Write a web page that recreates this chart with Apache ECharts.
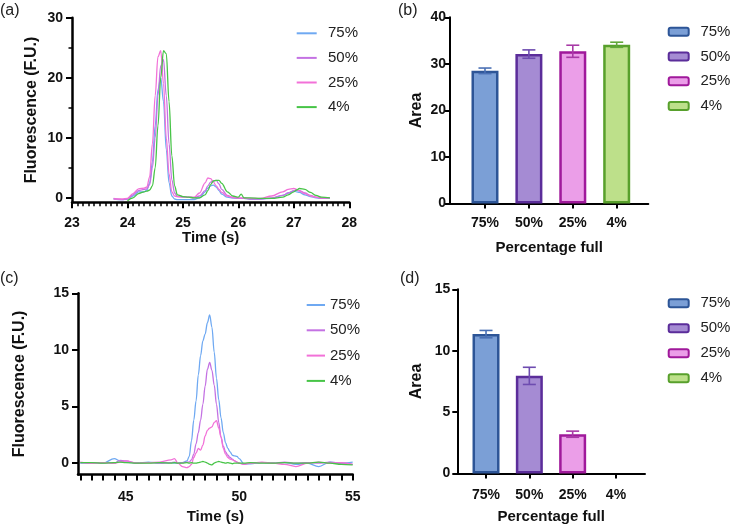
<!DOCTYPE html>
<html><head><meta charset="utf-8">
<script src="https://cdn.jsdelivr.net/npm/echarts@6.0.0/dist/echarts.min.js"></script>
<style>
html,body{margin:0;padding:0;background:#fff;}
#wrap{position:relative;width:731px;height:529px;overflow:hidden;}
.p{position:absolute;}
</style>
</head><body>
<div id="wrap">
<div id="ca" class="p" style="left:0;top:0;width:370px;height:260px"></div>
<div id="cb" class="p" style="left:370px;top:0;width:361px;height:260px"></div>
<div id="cc" class="p" style="left:0;top:260px;width:370px;height:269px"></div>
<div id="cd" class="p" style="left:370px;top:260px;width:361px;height:269px"></div>
</div>
<script>
// ---------- data ----------
const labels = ['75%', '50%', '25%', '4%'];

// panel (a): electropherogram, time (s) vs fluorescence
const timeA = [23.75, 23.9, 24.0, 24.1, 24.2, 24.3, 24.35, 24.4, 24.45, 24.5, 24.55, 24.6, 24.65, 24.7, 24.75, 24.8, 24.85, 24.9, 25.0, 25.1, 25.2, 25.3, 25.4, 25.45, 25.5, 25.55, 25.6, 25.65, 25.7, 25.8, 25.9, 26.0, 26.05, 26.1, 26.2, 26.4, 26.6, 26.8, 26.9, 27.0, 27.05, 27.1, 27.2, 27.3, 27.4, 27.5, 27.65];
const a75 = [-0.2, -0.3, -0.2, 0.3, 1.0, 1.0, 1.3, 2.5, 6, 12, 18, 20, 16, 8, 2.5, 0.3, -0.2, -0.3, -0.3, -0.3, -0.3, 0.0, 1.0, 1.6, 2.0, 2.1, 1.8, 1.2, 0.6, 0.1, 0.0, -0.1, -0.1, -0.1, -0.2, -0.2, -0.1, 0.4, 0.8, 1.1, 1.0, 0.9, 0.5, 0.2, 0.0, -0.1, 0.0];
const a50 = [-0.1, -0.3, -0.2, 0.5, 1.2, 1.4, 1.5, 2.2, 5, 10, 17, 22, 23, 17, 9, 3, 0.8, 0.2, 0.1, 0.1, 0.0, 0.3, 1.2, 2.0, 2.6, 2.8, 2.9, 2.3, 1.4, 0.4, 0.0, -0.1, -0.1, -0.1, -0.2, -0.2, 0.0, 0.4, 0.8, 1.2, 1.3, 1.2, 0.8, 0.4, 0.1, -0.1, 0.0];
const a25 = [-0.2, -0.2, -0.1, 0.7, 1.5, 1.6, 1.8, 3.5, 9, 17, 23.5, 24.5, 19, 10, 4, 1.0, 0.3, 0.2, 0.2, 0.1, 0.1, 0.8, 2.5, 3.3, 3.2, 2.6, 2.0, 1.4, 0.9, 0.3, 0.1, 0.0, 0.0, 0.0, -0.1, -0.1, 0.3, 1.0, 1.4, 1.55, 1.4, 1.1, 0.7, 0.3, 0.1, 0.0, 0.0];
const a4 = [null, null, -0.5, 0.0, 0.7, 1.0, 1.1, 1.3, 2.0, 5, 12, 20, 24.5, 24, 16, 7, 2, 0.5, 0.2, 0.1, 0.0, 0.0, 0.5, 1.2, 2.2, 2.8, 2.9, 2.9, 2.4, 1.0, 0.3, 0.1, 0.6, 0.0, 0.0, -0.1, -0.1, 0.1, 0.5, 1.0, 1.3, 1.55, 1.4, 0.9, 0.4, 0.1, 0.0];

// panel (c)
const timeC = [43, 43.5, 44, 44.5, 44.75, 45, 45.5, 46, 46.5, 47, 47.15, 47.3, 47.5, 47.7, 47.8, 47.9, 48.0, 48.1, 48.2, 48.3, 48.4, 48.5, 48.6, 48.7, 48.8, 48.9, 49.0, 49.1, 49.2, 49.3, 49.4, 49.5, 49.6, 49.7, 49.8, 49.9, 50.0, 50.2, 50.5, 51, 51.5, 52, 52.5, 53, 53.5, 54, 54.5, 55];
const c75 = [0.0, 0.05, 0.0, 0.4, 0.2, 0.1, 0.0, 0.1, 0.0, 0.05, 0.0, 0.0, 0.05, 0.2, 0.6, 2.0, 3.8, 5.5, 7.8, 9.5, 10.8, 11.4, 12.4, 13.1, 12.0, 9.8, 7.5, 5.6, 4.0, 2.7, 1.8, 1.3, 1.0, 0.7, 0.65, 0.6, 0.4, -0.05, -0.05, 0.05, 0.0, 0.05, -0.1, 0.0, -0.3, 0.1, 0.0, 0.1];
const c50 = [0.05, 0.0, 0.05, 0.0, 0.25, 0.2, 0.0, 0.05, 0.0, 0.05, 0.1, 0.0, 0.05, 0.1, 0.1, 0.3, 0.8, 1.7, 2.7, 3.8, 5.2, 6.8, 8.3, 8.9, 8.2, 6.9, 5.2, 3.6, 2.3, 1.5, 1.0, 0.7, 0.5, 0.35, 0.2, 0.1, 0.0, -0.1, 0.0, 0.05, 0.0, 0.1, 0.0, 0.05, 0.0, 0.1, 0.0, -0.1];
const c25 = [0.1, 0.0, 0.05, 0.0, 0.1, 0.2, 0.0, 0.05, 0.1, 0.3, 0.4, 0.0, -0.3, -0.4, -0.3, -0.1, 0.5, 0.9, 1.3, 1.15, 1.6, 2.4, 2.9, 3.1, 3.2, 3.6, 3.75, 3.1, 2.3, 1.3, 0.8, 0.5, 0.35, 0.3, 0.2, 0.1, 0.0, -0.1, 0.0, 0.1, 0.0, -0.1, -0.3, 0.0, 0.1, 0.0, 0.05, -0.1];
const c4 = [0.05, 0.05, 0.0, 0.05, 0.1, 0.05, 0.0, 0.0, 0.05, 0.0, 0.05, 0.0, 0.0, 0.05, 0.0, 0.05, 0.0, 0.0, 0.05, 0.1, 0.15, 0.1, 0.0, -0.1, -0.15, 0.0, 0.1, 0.15, 0.1, 0.05, 0.0, 0.05, 0.0, -0.05, 0.0, 0.0, 0.0, 0.0, 0.05, 0.0, 0.0, 0.05, 0.0, 0.0, 0.1, 0.0, -0.1, -0.15];

// panel (b) and (d): peak area mean and error
const areaB = [28.5, 32.1, 32.7, 34.1];
const errB = [0.6, 0.9, 1.3, 0.55];
const areaD = [11.35, 7.95, 3.2, 0];
const errD = [0.3, 0.7, 0.25, 0];

// tick labels
const yTicksA = [0, 10, 20, 30];
const yMinorA = [5, 15, 25];
const xTicksC = [45, 50, 55];
const xMinorC = [43, 43.5, 44, 44.5, 45, 45.5, 46, 46.5, 47, 47.5, 48, 48.5, 49, 49.5, 50, 50.5, 51, 51.5, 52, 52.5, 53, 53.5, 54, 54.5, 55];
const yTicksC = [0, 5, 10, 15];
const catPos = [0, 1, 2, 3];

// ---------- styles ----------
const FONT = '"Liberation Sans", Arial, Helvetica, sans-serif';
const lineColors = ['#6fa9f2', '#c472e3', '#f271d8', '#47c447'];
const barFill = ['#7b9fd6', '#a58bd3', '#eb9ee8', '#bde08a'];
const barBorder = ['#2d5597', '#5b2d9a', '#a0199b', '#58a02c'];
const errColor = ['#4a70b4', '#6e4cb0', '#a83aa6', '#62a83a'];
const AX = '#000';
const tickLabel = { fontFamily: FONT, fontSize: 14, fontWeight: 'bold', color: '#111' };
const nameStyleX = { fontFamily: FONT, fontSize: 15, fontWeight: 'bold', color: '#111' };
const nameStyleY = { fontFamily: FONT, fontSize: 16, fontWeight: 'bold', color: '#111' };

function panelTitle(text, left, top) {
  return { text: text, left: left, top: top, padding: 0,
    textStyle: { fontFamily: FONT, fontSize: 16, fontWeight: 'normal', color: '#222' } };
}
function legendCfg(left, top, gap, iw, ih, pad, isLine) {
  const lg = { orient: 'vertical', left: left, top: top, padding: 0, itemGap: gap, itemWidth: iw, itemHeight: ih,
    data: labels, selectedMode: false,
    textStyle: { fontFamily: FONT, fontSize: 15, color: '#222', lineHeight: 16, padding: [0, 0, 0, pad] } };
  if (isLine) { lg.icon = 'rect'; lg.lineStyle = { width: 1.5 }; }
  return lg;
}
function lineSeries(times, arrs) {
  return arrs.map((arr, i) => ({
    type: 'line', name: labels[i], symbol: 'none', showSymbol: false,
    smooth: 0.35, smoothMonotone: 'x', clip: true,
    lineStyle: { color: lineColors[i], width: 1.3 }, itemStyle: { color: lineColors[i] },
    data: times.map((t, k) => [t, arr[k]])
  }));
}
function barSeries(vals, errs) {
  const s = vals.map((v, i) => ({
    type: 'bar', name: labels[i], barWidth: 27, barGap: '-100%',
    itemStyle: { color: barFill[i], borderColor: barBorder[i], borderWidth: 2.5 },
    data: [{ value: [catPos[i], v], itemStyle: v === 0 ? { borderWidth: 0 } : {} }]
  }));
  s.push({
    type: 'custom', z: 5,
    data: vals.map((v, i) => [catPos[i], v - errs[i], v + errs[i], i]),
    renderItem: function (params, api) {
      const x = api.value(0), lo = api.value(1), hi = api.value(2), k = api.value(3);
      if (hi <= lo) return null;
      const ph = api.coord([x, hi]), pl = api.coord([x, lo]);
      const w = 6.5, st = { stroke: errColor[k], lineWidth: 1.6 };
      return { type: 'group', children: [
        { type: 'line', shape: { x1: ph[0], y1: ph[1], x2: pl[0], y2: pl[1] }, style: st },
        { type: 'line', shape: { x1: ph[0] - w, y1: ph[1], x2: ph[0] + w, y2: ph[1] }, style: st },
        { type: 'line', shape: { x1: pl[0] - w, y1: pl[1], x2: pl[0] + w, y2: pl[1] }, style: st }
      ] };
    }
  });
  return s;
}
function catXAxis(min, max, gap, margin) {
  return {
    type: 'value', min: min, max: max,
    axisLine: { show: true, onZero: false, lineStyle: { color: AX, width: 2 } },
    axisTick: { show: true, customValues: catPos, length: 5, lineStyle: { color: AX, width: 2 } },
    axisLabel: Object.assign({ customValues: catPos, margin: margin, formatter: v => labels[Math.round(v)] }, tickLabel),
    splitLine: { show: false },
    name: 'Percentage full', nameLocation: 'middle', nameGap: gap, nameMoveOverlap: false, nameTextStyle: nameStyleX
  };
}

// ---------- panel (a) ----------
const chA = echarts.init(document.getElementById('ca'), null, { renderer: 'canvas' });
chA.setOption({
  animation: false,
  title: panelTitle('(a)', 0, 3),
  legend: legendCfg(296.7, 25.3, 8.6, 20, 2, 6.3, true),
  grid: { left: 72, top: 17.7, width: 277.3, height: 184.6 },
  xAxis: {
    type: 'value', min: 23, max: 28, interval: 1,
    axisLine: { show: true, onZero: false, lineStyle: { color: AX, width: 2.5 } },
    axisTick: { show: true, length: 6, lineStyle: { color: AX, width: 2 } },
    minorTick: { show: true, splitNumber: 10, length: 4, lineStyle: { color: AX, width: 1.5 } },
    splitLine: { show: false }, minorSplitLine: { show: false },
    axisLabel: Object.assign({ margin: 13.5 }, tickLabel),
    name: 'Time (s)', nameLocation: 'middle', nameGap: 28.5, nameMoveOverlap: false, nameTextStyle: nameStyleX
  },
  yAxis: [{
    type: 'value', min: -0.75, max: 30, position: 'left',
    axisLine: { show: true, onZero: false, lineStyle: { color: AX, width: 2.5 } },
    axisTick: { show: true, customValues: yTicksA, length: 6, lineStyle: { color: AX, width: 2 } },
    axisLabel: Object.assign({ customValues: yTicksA, margin: 9 }, tickLabel),
    splitLine: { show: false },
    name: 'Fluorescence (F.U.)', nameLocation: 'middle', nameGap: 32, nameMoveOverlap: false, nameTextStyle: nameStyleY
  }, {
    type: 'value', min: -0.75, max: 30, position: 'left', offset: 0,
    axisLine: { show: false },
    axisTick: { show: true, customValues: yMinorA, length: 3.5, lineStyle: { color: AX, width: 1.5 } },
    axisLabel: { show: false }, splitLine: { show: false }
  }],
  series: lineSeries(timeA, [a75, a50, a25, a4])
});

// ---------- panel (b) ----------
const chB = echarts.init(document.getElementById('cb'), null, { renderer: 'canvas' });
chB.setOption({
  animation: false,
  title: panelTitle('(b)', 28, 3),
  legend: legendCfg(297.7, 23.7, 8.8, 20, 8, 6.7, false),
  grid: { left: 80, top: 17.3, width: 198.3, height: 187 },
  xAxis: catXAxis(-0.797, 3.72, 36.5, 13),
  yAxis: {
    type: 'value', min: 0, max: 40, interval: 10,
    axisLine: { show: true, onZero: false, lineStyle: { color: AX, width: 2 } },
    axisTick: { show: true, length: 5, lineStyle: { color: AX, width: 2 } },
    axisLabel: Object.assign({ margin: 4 }, tickLabel),
    splitLine: { show: false },
    name: 'Area', nameLocation: 'middle', nameGap: 25.5, nameMoveOverlap: false, nameTextStyle: nameStyleY
  },
  series: barSeries(areaB, errB)
});

// ---------- panel (c) ----------
const chC = echarts.init(document.getElementById('cc'), null, { renderer: 'canvas' });
chC.setOption({
  animation: false,
  title: panelTitle('(c)', 0, 11),
  legend: legendCfg(306.7, 37, 9.3, 18.3, 2, 0, true),
  grid: { left: 78, top: 33.3, width: 274.7, height: 185 },
  xAxis: [{
    type: 'value', min: 42.9, max: 55,
    axisLine: { show: true, onZero: false, lineStyle: { color: AX, width: 2.5 } },
    axisTick: { show: true, customValues: xMinorC, length: 6, lineStyle: { color: AX, width: 2 } },
    axisLabel: Object.assign({ customValues: xTicksC, margin: 16 }, tickLabel),
    splitLine: { show: false },
    name: 'Time (s)', nameLocation: 'middle', nameGap: 34.5, nameMoveOverlap: false, nameTextStyle: nameStyleX
  }],
  yAxis: {
    type: 'value', min: -1, max: 15,
    axisLine: { show: true, onZero: false, lineStyle: { color: AX, width: 2.5 } },
    axisTick: { show: true, customValues: yTicksC, length: 6, lineStyle: { color: AX, width: 2 } },
    axisLabel: Object.assign({ customValues: yTicksC, margin: 9 }, tickLabel),
    splitLine: { show: false },
    name: 'Fluorescence (F.U.)', nameLocation: 'middle', nameGap: 50, nameMoveOverlap: false, nameTextStyle: nameStyleY
  },
  series: lineSeries(timeC, [c75, c50, c25, c4])
});

// ---------- panel (d) ----------
const chD = echarts.init(document.getElementById('cd'), null, { renderer: 'canvas' });
chD.setOption({
  animation: false,
  title: panelTitle('(d)', 30, 11),
  legend: legendCfg(297.7, 35.3, 9, 20, 8, 6.7, false),
  grid: { left: 87.3, top: 29.3, width: 187.7, height: 188 },
  xAxis: catXAxis(-0.663, 3.67, 35.5, 15),
  yAxis: {
    type: 'value', min: 0, max: 15, interval: 5,
    axisLine: { show: true, onZero: false, lineStyle: { color: AX, width: 2 } },
    axisTick: { show: true, length: 5, lineStyle: { color: AX, width: 2 } },
    axisLabel: Object.assign({ margin: 7 }, tickLabel),
    splitLine: { show: false },
    name: 'Area', nameLocation: 'middle', nameGap: 33, nameMoveOverlap: false, nameTextStyle: nameStyleY
  },
  series: barSeries(areaD, errD)
});
</script>
</body></html>
